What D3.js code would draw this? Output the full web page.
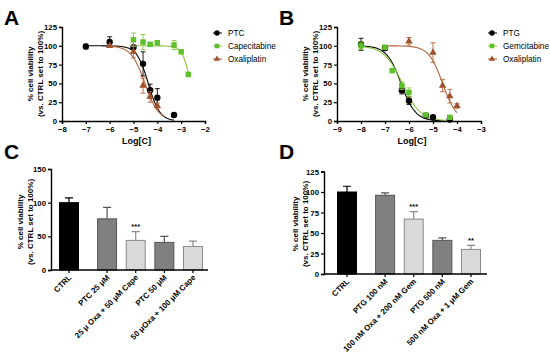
<!DOCTYPE html>
<html>
<head>
<meta charset="utf-8">
<script src="https://cdn.jsdelivr.net/npm/d3@7"></script>
<style>
  body { margin: 0; background: #fff; }
  svg text { font-family: "Liberation Sans", Arial, sans-serif; }
</style>
</head>
<body>
<script>
"use strict";
// panel A: log concentration vs viability
const aPTC = [[-7, 99, 3], [-6, 105, 7], [-5, 98, 8], [-4.6, 76, 16], [-4.3, 41, 8], [-4, 31, 12], [-3.3, 8, 0]]
const aCape = [[-5, 108, 9], [-4.6, 105, 10], [-4.3, 102, 2], [-4, 104, 3], [-3.3, 101, 6], [-3, 92, 2], [-2.7, 62, 2]]
const aOxa = [[-6, 100, 0], [-5, 92, 8], [-4.6, 47, 10], [-4.3, 32, 7], [-4, 20, 4]]
// fitted curves: [logIC50, hill, xmin, xmax]
const aFits = [[-4.38, 1.8, -7, -3.3], [-2.6, 2.5, -5, -2.7], [-4.52, 1.5, -6, -3.75]]

// panel B
const bPTG = [[-8, 102, 8], [-7, 97, 3], [-6.3, 41, 5], [-6, 27, 5], [-5.3, 7, 2], [-5, 5, 1], [-4.3, 2, 1]]
const bGem = [[-8, 100, 5], [-7, 98, 2], [-6.7, 67, 2], [-6.3, 47, 5], [-6, 38, 6], [-5.3, 8, 2], [-4.3, 5, 2]]
const bOxa = [[-6, 106, 5], [-5, 91, 13], [-4.6, 47, 8], [-4.3, 33, 9], [-4, 20, 3]]
const bFits = [[-6.33, 1.45, -8, -4.3], [-6.28, 1.15, -8, -4.3], [-4.6, 1.5, -7, -4]]

// panel C bars
const cLabels = ["CTRL", "PTC 25 \u03bcM", "25 \u03bc Oxa + 50 \u03bcM Cape", "PTC 50 \u03bcM", "50 \u03bcOxa + 100 \u03bcM Cape"]
const cValues = [100, 76, 44, 41, 35]
const cErrors = [7, 17, 13, 9, 8]
const cStars = ["", "", "***", "", ""]

// panel D bars
const dLabels = ["CTRL", "PTG 100 nM", "100 nM Oxa + 200 nM Gem", "PTG 500 nM", "500 nM Oxa + 1 \u03bcM Gem"]
const dValues = [100, 96, 67, 41, 30]
const dErrors = [7, 3, 9, 3, 5]
const dStars = ["", "", "***", "", "**"]

const barKinds = ["ctrl", "single", "combo", "single", "combo"]
const barFill = { ctrl: "#000", single: "#808080", combo: "#d9d9d9" }
const barStroke = { ctrl: "#000", single: "#555", combo: "#8a8a8a" }

const svg = d3.select("body").append("svg")
    .attr("width", 550)
    .attr("height", 353)

function letter(x, y, t) {
  svg.append("text").attr("x", x).attr("y", y)
    .attr("font-size", "21px").attr("font-weight", "bold").text(t)
}

function yTitle(cx, cy) {
  const t = svg.append("text")
    .attr("transform", "translate(" + cx + "," + cy + ") rotate(-90)")
    .attr("text-anchor", "middle")
    .attr("font-size", "8px").attr("font-weight", "bold")
  t.append("tspan").attr("x", 0).attr("y", 0).text("% cell viability")
  t.append("tspan").attr("x", 0).attr("y", 10).text("(vs. CTRL set to 100%)")
}

function styleAxis(g) {
  g.selectAll(".domain").attr("stroke-width", 1.4)
  g.selectAll(".tick line").attr("stroke-width", 1.2)
  g.selectAll(".tick text").attr("font-size", "7.8px").attr("font-weight", "bold")
    .attr("font-family", "Liberation Sans, Arial, sans-serif")
}

function curvePanel(opt) {
  const x = d3.scaleLinear().domain(opt.xdom).range(opt.xr)
  const y = d3.scaleLinear().domain([0, 125]).range([121, 27])

  const gx = svg.append("g").attr("transform", "translate(0,121)")
    .call(d3.axisBottom(x).ticks(6).tickSize(3).tickPadding(2).tickFormat(d3.format("d")))
  styleAxis(gx)
  const gy = svg.append("g").attr("transform", "translate(" + opt.xr[0] + ",0)")
    .call(d3.axisLeft(y).tickValues([0, 25, 50, 75, 100, 125]).tickSize(3).tickPadding(2))
  styleAxis(gy)

  svg.append("text").attr("x", (opt.xr[0] + opt.xr[1]) / 2 + 3).attr("y", 144)
    .attr("text-anchor", "middle").attr("font-size", "9px").attr("font-weight", "bold")
    .text("Log[C]")

  const line = d3.line().x(d => x(d[0])).y(d => y(d[1]))
  opt.series.forEach((s, i) => {
    const f = opt.fits[i]
    const pts = d3.range(0, 101).map(k => {
      const xv = f[2] + (f[3] - f[2]) * k / 100
      return [xv, 100 / (1 + Math.pow(10, (xv - f[0]) * f[1]))]
    })
    svg.append("path").datum(pts).attr("d", line)
      .attr("fill", "none").attr("stroke", s.line).attr("stroke-width", 1.1)
  })
  opt.series.forEach(s => {
    const g = svg.append("g")
    g.selectAll("path.err").data(s.data.filter(d => d[2] > 0)).enter().append("path")
      .attr("d", d => {
        const cx = x(d[0]), t = y(d[1] + d[2]), b = y(d[1] - d[2])
        return "M" + cx + "," + t + "V" + b + "M" + (cx - 2.5) + "," + t + "H" + (cx + 2.5) +
          "M" + (cx - 2.5) + "," + b + "H" + (cx + 2.5)
      })
      .attr("stroke", s.line).attr("stroke-width", 0.9).attr("fill", "none")
    g.selectAll("path.pt").data(s.data).enter().append("path")
      .attr("transform", d => "translate(" + x(d[0]) + "," + y(d[1]) + ")")
      .attr("d", d3.symbol().type(s.sym).size(s.size))
      .attr("fill", s.color)
  })

  // legend
  opt.series.forEach((s, i) => {
    const ly = 33 + i * 13
    svg.append("line").attr("x1", opt.lx - 4).attr("x2", opt.lx + 5)
      .attr("y1", ly).attr("y2", ly).attr("stroke", s.line).attr("stroke-width", 1)
    svg.append("path").attr("transform", "translate(" + opt.lx + "," + ly + ")")
      .attr("d", d3.symbol().type(s.sym).size(s.size * 0.7)).attr("fill", s.color)
    svg.append("text").attr("x", opt.lx + 11).attr("y", ly + 3)
      .attr("font-size", "8.2px").text(s.name)
  })
}

function barPanel(opt) {
  const x = d3.scaleLinear().domain([0, 4.33]).range(opt.cr)
  const y = d3.scaleLinear().domain([0, opt.ymax]).range([opt.y0, opt.ytop])
  const pos = i => i + (i > 0 ? 0.33 : 0)
  const bw = 19
  const rows = opt.labels.map((l, i) => ({ l, v: opt.values[i], e: opt.errors[i], s: opt.stars[i], k: barKinds[i], p: pos(i) }))

  const g = svg.append("g")
  g.selectAll("path.err").data(rows).enter().append("path")
    .attr("d", d => {
      const cx = x(d.p), t = y(d.v + d.e)
      return "M" + cx + "," + y(d.v) + "V" + t + "M" + (cx - 4) + "," + t + "H" + (cx + 4)
    })
    .attr("stroke", d => barStroke[d.k]).attr("stroke-width", 1.2).attr("fill", "none")
  g.selectAll("rect").data(rows).enter().append("rect")
    .attr("x", d => x(d.p) - bw / 2).attr("width", bw)
    .attr("y", d => y(d.v)).attr("height", d => opt.y0 - y(d.v))
    .attr("fill", d => barFill[d.k]).attr("stroke", d => barStroke[d.k]).attr("stroke-width", 1)
  g.selectAll("text.star").data(rows.filter(d => d.s)).enter().append("text")
    .attr("x", d => x(d.p)).attr("y", d => y(d.v + d.e) - 2.5)
    .attr("text-anchor", "middle").attr("font-size", "7.5px").attr("font-weight", "bold")
    .text(d => d.s)

  const gy = svg.append("g").attr("transform", "translate(" + opt.ax[0] + ",0)")
    .call(d3.axisLeft(y).tickValues(opt.ticks).tickSize(3).tickPadding(2))
  styleAxis(gy)
  svg.append("line").attr("x1", opt.ax[0]).attr("x2", opt.ax[1])
    .attr("y1", opt.y0).attr("y2", opt.y0).attr("stroke", "#000").attr("stroke-width", 1.4)
  g.selectAll("line.tk").data(rows).enter().append("line")
    .attr("x1", d => x(d.p)).attr("x2", d => x(d.p))
    .attr("y1", opt.y0).attr("y2", opt.y0 + 3).attr("stroke", "#000").attr("stroke-width", 1.2)
  g.selectAll("text.lab").data(rows).enter().append("text")
    .attr("transform", d => "translate(" + (x(d.p) + 3) + "," + (opt.y0 + 8) + ") rotate(-45)")
    .attr("text-anchor", "end").attr("font-size", "7.9px").attr("font-weight", "bold")
    .text(d => d.l)
}

letter(4, 25, "A")
letter(279, 25, "B")
letter(4, 159, "C")
letter(279, 159, "D")

yTitle(33, 74)
yTitle(308, 74)
yTitle(23, 222)
yTitle(298, 224)

curvePanel({
  xdom: [-8, -2], xr: [62, 205], lx: 217, fits: aFits,
  series: [
    { name: "PTC", data: aPTC, color: "#000", line: "#000", sym: d3.symbolCircle, size: 32 },
    { name: "Capecitabine", data: aCape, color: "#5cc12a", line: "#8cc63f", sym: d3.symbolSquare, size: 30 },
    { name: "Oxaliplatin", data: aOxa, color: "#a0522d", line: "#b5653a", sym: d3.symbolTriangle, size: 24 }
  ]
})

curvePanel({
  xdom: [-9, -3], xr: [337, 481], lx: 492, fits: bFits,
  series: [
    { name: "PTG", data: bPTG, color: "#000", line: "#000", sym: d3.symbolCircle, size: 32 },
    { name: "Gemcitabine", data: bGem, color: "#5cc12a", line: "#8cc63f", sym: d3.symbolSquare, size: 30 },
    { name: "Oxaliplatin", data: bOxa, color: "#a0522d", line: "#b5653a", sym: d3.symbolTriangle, size: 24 }
  ]
})

barPanel({ labels: cLabels, values: cValues, errors: cErrors, stars: cStars,
  ymax: 150, y0: 270, ytop: 169, ticks: [0, 50, 100, 150], cr: [69, 193], ax: [51, 208] })

barPanel({ labels: dLabels, values: dValues, errors: dErrors, stars: dStars,
  ymax: 125, y0: 274, ytop: 171.5, ticks: [0, 25, 50, 75, 100, 125], cr: [347, 471], ax: [324, 487] })
</script>
</body>
</html>
